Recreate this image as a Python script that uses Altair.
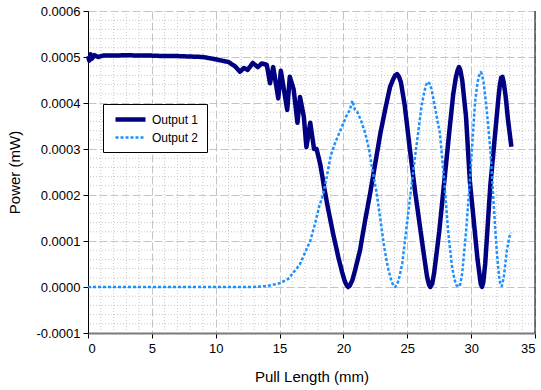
import altair as alt
import pandas as pd

UNIT = 1e-4  # values below are in units of 0.0001 mW

out1_x = [0.0, 0.1, 0.2, 0.3, 0.5, 0.8, 1.2, 2.0, 3.0, 4.0, 5.0, 6.0, 7.0, 8.0, 9.0, 10.0, 10.5,
          11.0, 11.5, 11.9, 12.2, 12.5, 12.9, 13.3, 13.6, 14.0, 14.25, 14.5, 14.9, 15.1, 15.6,
          15.8, 16.1, 16.4, 16.6, 16.9, 17.1, 17.4, 17.7, 17.9, 18.2, 18.5, 18.8, 19.2, 19.6,
          19.9, 20.1, 20.25, 20.36, 20.5, 20.7, 20.9, 21.3, 21.7, 22.1,
          22.5, 22.9, 23.3, 23.65, 23.9, 24.05, 24.2, 24.35, 24.5, 24.8, 25.2, 25.6, 26.0,
          26.3, 26.55, 26.7, 26.8, 26.95, 27.1, 27.5, 27.9, 28.3, 28.6, 28.8, 28.95, 29.05,
          29.15, 29.3, 29.6, 29.9, 30.3, 30.5, 30.65, 30.75, 30.85, 30.95, 31.1, 31.5, 31.8,
          32.0, 32.15, 32.25, 32.35, 32.45, 32.55, 32.7, 32.9, 33.15]
out1_y = [5.02, 4.92, 5.06, 4.96, 5.04, 5.0, 5.03, 5.03, 5.04, 5.03, 5.03, 5.02, 5.02, 5.01, 5.0,
          4.95, 4.92, 4.89, 4.80, 4.68, 4.76, 4.72, 4.87, 4.78, 4.86, 4.83, 4.43, 4.78, 4.10,
          4.70, 3.85, 4.57, 4.30, 3.57, 4.13, 3.70, 3.04, 3.57, 3.00, 3.00, 2.65, 2.15, 1.70,
          1.15, 0.65,
          0.32, 0.13, 0.04, 0.0, 0.03, 0.15, 0.35, 0.80,
          1.45, 2.05, 2.70, 3.35, 3.90, 4.35, 4.52, 4.60, 4.63, 4.57, 4.45, 3.95, 3.00, 2.10,
          1.30, 0.70, 0.22, 0.05, 0.0, 0.07, 0.30, 1.20, 2.30, 3.40, 4.20, 4.55, 4.72, 4.78,
          4.72, 4.50, 3.70, 2.30, 1.17, 0.60, 0.28, 0.07, 0.0, 0.10, 0.50, 2.20, 3.10, 3.70,
          4.15, 4.40, 4.55, 4.57, 4.45, 4.15, 3.60, 3.05]

out2_x = [0.0, 13.0, 14.0, 14.5, 15.0, 15.5, 15.8, 16.0, 16.3, 16.6, 17.0, 17.4, 17.8, 18.1,
          18.4, 18.7, 19.0, 19.3, 19.6, 19.9, 20.2, 20.5, 20.7, 20.9, 21.1, 21.4, 21.7, 22.0,
          22.3, 22.6, 22.9, 23.2, 23.5, 23.75, 23.9, 24.05, 24.2, 24.35, 24.6, 24.9, 25.2, 25.5,
          25.85, 26.1, 26.3, 26.45, 26.6, 26.75, 26.9, 27.1, 27.55, 27.9, 28.2, 28.5, 28.7,
          28.85, 29.0, 29.15, 29.3, 29.6, 29.9, 30.3, 30.5, 30.65, 30.75, 30.85, 31.0, 31.2,
          31.5, 31.9, 32.05, 32.2, 32.3, 32.4, 32.55, 32.8, 33.0, 33.15]
out2_y = [0.0, 0.0, 0.02, 0.05, 0.08, 0.15, 0.20, 0.30, 0.38, 0.50, 0.75, 1.00, 1.40, 1.75,
          2.00, 2.40, 2.85, 3.10, 3.30, 3.50, 3.70, 3.85, 4.05, 3.85, 3.80, 3.60, 3.35, 3.00,
          2.50, 2.05, 1.45, 0.85, 0.40, 0.14, 0.04, 0.0, 0.05, 0.18, 0.50, 1.20, 1.90, 2.60,
          3.35, 3.90, 4.20, 4.38, 4.46, 4.42, 4.30, 4.00, 3.35, 2.30, 1.20, 0.45, 0.16, 0.04,
          0.0, 0.06, 0.30, 1.20, 2.30, 4.00, 4.45, 4.62, 4.67, 4.62, 4.40, 3.90, 3.00, 1.20,
          0.62, 0.20, 0.04, 0.02, 0.20, 0.80, 1.10, 1.18]

series_names = ["Output 1", "Output 2"]
x_ticks = [0, 5, 10, 15, 20, 25, 30, 35]
y_ticks = [-1, 0, 1, 2, 3, 4, 5, 6]
x_minor = [v for v in range(0, 36) if v % 5 != 0]
y_minor = [k * 0.2 for k in range(-5, 31) if k % 5 != 0]

rows = []
for x, y in zip(out1_x, out1_y):
    rows.append({"x": x, "y": y * UNIT, "s": series_names[0]})
for x, y in zip(out2_x, out2_y):
    rows.append({"x": x, "y": y * UNIT, "s": series_names[1]})
df = pd.DataFrame(rows)

xminor_df = pd.DataFrame({"x": x_minor})
yminor_df = pd.DataFrame({"y": [v * UNIT for v in y_minor]})
border_df = pd.DataFrame({"x": [35]})

x_scale = alt.Scale(domain=[0, 35], nice=False, zero=False)
y_scale = alt.Scale(domain=[-1 * UNIT, 6 * UNIT], nice=False, zero=False)

x_axis = alt.Axis(values=x_ticks, title="Pull Length (mm)", grid=True, gridDash=[8, 3],
                  gridColor="#c4c4c4", domainColor="#7a7a7a", domainWidth=2,
                  tickColor="#000000", tickSize=5, labelFontSize=13, labelPadding=4,
                  titleFontSize=15, titlePadding=14, titleFontWeight="normal",
                  labelColor="#000000", titleColor="#000000",
                  labelFont="Liberation Sans", titleFont="Liberation Sans")
y_axis = alt.Axis(values=[v * UNIT for v in y_ticks], title="Power (mW)", grid=True,
                  gridDash=[8, 3], gridColor="#c4c4c4", domainColor="#000000",
                  tickColor="#000000", tickSize=5, labelFontSize=13, labelPadding=3,
                  labelExpr="replace(format(datum.value, '.4f'), '\u2212', '-')",
                  titleFontSize=15, titlePadding=13, titleFontWeight="normal",
                  labelColor="#000000", titleColor="#000000",
                  labelFont="Liberation Sans", titleFont="Liberation Sans")

xminor = alt.Chart(xminor_df).mark_rule(color="#c8c8c8", strokeDash=[1, 2], strokeWidth=1).encode(
    x=alt.X("x:Q", scale=x_scale, axis=x_axis)
)
yminor = alt.Chart(yminor_df).mark_rule(color="#c8c8c8", strokeDash=[1, 2], strokeWidth=1).encode(
    y=alt.Y("y:Q", scale=y_scale, axis=y_axis)
)
border = alt.Chart(border_df).mark_rule(color="#000000", strokeWidth=1).encode(
    x=alt.X("x:Q", scale=x_scale, axis=x_axis)
)

lines = alt.Chart(df).mark_line(strokeJoin="round").encode(
    x=alt.X("x:Q", scale=x_scale, axis=x_axis),
    y=alt.Y("y:Q", scale=y_scale, axis=y_axis),
    color=alt.Color("s:N", scale=alt.Scale(domain=series_names, range=["#000080", "#1E8FFF"]),
                    legend=alt.Legend(title=None, orient="none", legendX=15, legendY=93,
                                      strokeColor="#000000", fillColor="#ffffff", padding=8,
                                      labelFontSize=12, labelFont="Liberation Sans",
                                      labelColor="#000000", symbolType="M-3,0H3",
                                      symbolSize=100, symbolStrokeWidth=3, labelOffset=14,
                                      symbolOffset=12, rowPadding=2)),
    strokeDash=alt.StrokeDash("s:N", scale=alt.Scale(domain=series_names, range=[[1, 0], [3, 2]]),
                              legend=None),
    strokeWidth=alt.StrokeWidth("s:N", scale=alt.Scale(domain=series_names, range=[4.5, 2.5]),
                                legend=None),
)

chart = alt.layer(xminor, yminor, lines, border).properties(
    width=447, height=322,
    autosize=alt.AutoSizeParams(type="none"),
    padding={"left": 88, "top": 11, "right": 6, "bottom": 57},
).configure_view(stroke=None)

chart.save("out.html", embed_options={"renderer": "svg", "actions": False})
